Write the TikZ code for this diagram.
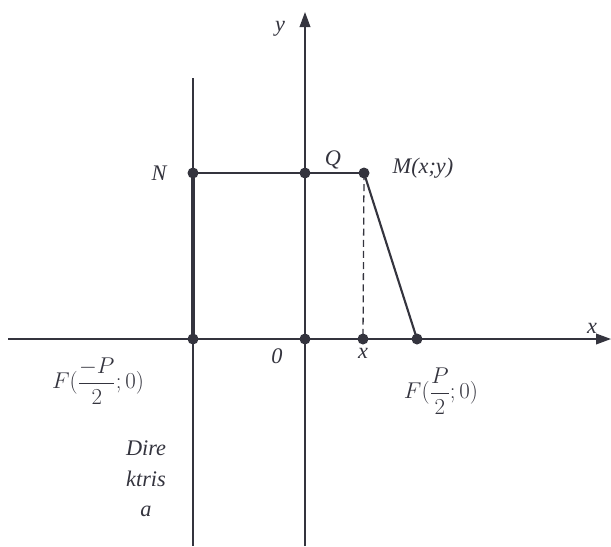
\RequirePackage{fix-cm}
\documentclass[tikz,border=0pt]{standalone}
\usepackage{amsmath}
\usepackage{fontspec}
\setmainfont{Liberation Serif}
\usetikzlibrary{arrows.meta}
\definecolor{ink}{HTML}{34343E}
\begin{document}
\begin{tikzpicture}[
  x=0.03cm,y=-0.03cm,
  font=\fontsize{19}{26}\selectfont\itshape,
  every node/.style={text=ink},
  axis/.style={draw=ink,line width=1.3pt,-{Triangle[length=4.5mm,width=3.2mm]}},
  thin/.style={draw=ink,line width=1.1pt},
  side/.style={draw=ink,line width=1.8pt},
  bold/.style={draw=ink,line width=3pt},
  guide/.style={draw=ink,line width=1.1pt,dash pattern=on 6pt off 3.5pt},
  dot/.style={circle,fill=ink,inner sep=0pt,minimum size=3.3mm},
  lbl/.style={inner sep=0pt},
  foc/.style={lbl,font=\fontsize{19.5}{24}\selectfont}]
  \useasboundingbox (0,0) rectangle (611,546);
  \coordinate (xl) at (8,339);
  \coordinate (xr) at (611,339);
  \coordinate (yb) at (305,546);
  \coordinate (yt) at (305,12);
  \coordinate (dt) at (193,78);
  \coordinate (db) at (193,546);
  \coordinate (N) at (193,173);
  \coordinate (Q) at (305,173);
  \coordinate (M) at (364,173);
  \coordinate (D) at (193,339);
  \coordinate (O) at (305,339);
  \coordinate (X) at (363,339);
  \coordinate (F) at (417,339);
  % axes and directrix
  \draw[axis] (xl) -- (xr);
  \draw[axis] (yb) -- (yt);
  \draw[thin] (dt) -- (db);
  % construction
  \draw[thin] (N) -- (M);
  \draw[bold] (N) -- (D);
  \draw[side] (M) -- (F);
  \draw[guide] (M) -- (X);
  \foreach \p in {N,Q,M,D,O,X,F}{\node[dot] at (\p) {};}
  % labels
  \node[lbl] (ylab) at (280,29) {y};
  \node[lbl] (xlab) at (592,328) {x};
  \node[lbl] (Nlab) at (159,173) {N};
  \node[lbl] (Qlab) at (333,160) {Q};
  \node[lbl] (Mlab) at (423,168) {M(x;y)};
  \node[lbl] (Olab) at (277,356) {0};
  \node[lbl] (Xlab) at (363,353) {x};
  \node[foc] (Fl) at (98,381) {$F(\dfrac{-P}{2};0)$};
  \node[foc] (Fr) at (441,391) {$F(\dfrac{P}{2};0)$};
  \node[lbl,align=center] (dir) at (146,479) {Dire\\ ktris\\ a};
\end{tikzpicture}
\end{document}
